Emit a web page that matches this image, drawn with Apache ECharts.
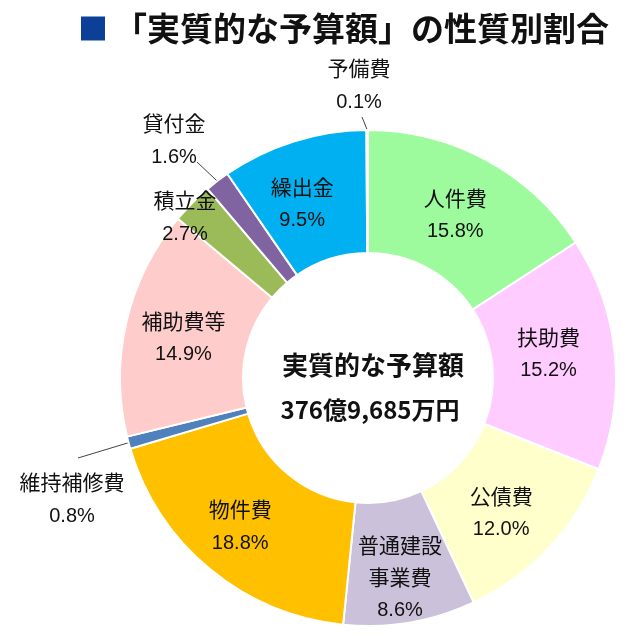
<!DOCTYPE html>
<html><head><meta charset="utf-8">
<script src="https://cdn.jsdelivr.net/npm/echarts@6/dist/echarts.min.js"></script>
<style>html,body{margin:0;padding:0;background:#fff}#c{width:640px;height:641px}</style>
</head><body><div id="c"></div>
<script>
const categories = ['人件費','扶助費','公債費','普通建設事業費','物件費','維持補修費','補助費等','積立金','貸付金','繰出金','予備費'];
const labelNames = ['人件費','扶助費','公債費','普通建設\n事業費','物件費','維持補修費','補助費等','積立金','貸付金','繰出金','予備費'];
const values = [15.8,15.2,12.0,8.6,18.8,0.8,14.9,2.7,1.6,9.5,0.1];
const colors = ['#9dfb9d','#ffccff','#ffffcc','#ccc1da','#ffc000','#4f81bd','#ffcccc','#9bbb59','#8064a2','#00b0f0','#d9d9d9'];
const totalTitle = '実質的な予算額';
const totalAmount = '376億9,685万円';
const chartTitle = '「実質的な予算額」の性質別割合';

// label placement styling
const outsideLabels = {
  '予備費': {pos:[359,86], end:[362,117]},
  '貸付金': {pos:[174,141], end:[197,162]},
  '積立金': {pos:[185,218], end:null},
  '維持補修費': {pos:[72,500], end:[78,458]}
};
const insideOffsets = {
  '人件費':[-3,4], '扶助費':[-8,-4], '公債費':[-5,6], '普通建設事業費':[0,14],
  '物件費':[-7,3], '補助費等':[0,4], '繰出金':[-9,7]
};

const FONT = '"Liberation Sans", "Noto Sans CJK JP", sans-serif';
const chart = echarts.init(document.getElementById('c'));

const data = categories.map((c,i)=>{
  const item = {name:c, value:values[i], itemStyle:{color:colors[i]}};
  const o = outsideLabels[c];
  if (o) {
    item.label = {position:'outside'};
    item.labelLine = {show: !!o.end};
  } else if (insideOffsets[c]) {
    item.label = {offset: insideOffsets[c]};
  }
  return item;
});

chart.setOption({
  animation:false,
  title:[
    {left:81, top:12, padding:0, text:'{sq|}{t|'+chartTitle+'}',
     textStyle:{rich:{
       sq:{width:24,height:24,backgroundColor:'#0b3f98'},
       t:{fontSize:33,fontWeight:'bold',color:'#111',fontFamily:'"Noto Sans CJK JP", sans-serif',padding:[0,0,0,9]}
     }}},
    {left:368, top:347, textAlign:'center', text:totalTitle,
     textStyle:{fontSize:26,fontWeight:'bold',color:'#111',fontFamily:'"Noto Sans CJK JP", sans-serif'}},
    {left:365, top:393, textAlign:'center', text:totalAmount,
     textStyle:{fontSize:24,fontWeight:'bold',color:'#111',fontFamily:'"Noto Sans CJK JP", sans-serif'}}
  ],
  series:[{
    type:'pie',
    center:[368,378],
    radius:[125,248],
    startAngle:90,
    clockwise:true,
    avoidLabelOverlap:false,
    itemStyle:{borderColor:'#fff',borderWidth:2},
    label:{
      show:true, position:'inside', color:'#111',
      formatter:(p)=>'{n|'+labelNames[p.dataIndex].split('\n').join('}\n{n|')+'}\n{p|'+values[p.dataIndex].toFixed(1)+'%}',
      rich:{
        n:{fontSize:21,lineHeight:32,fontFamily:FONT,color:'#111'},
        p:{fontSize:20,lineHeight:31,fontFamily:FONT,color:'#111'}
      }
    },
    labelLine:{show:false,length:10,length2:0,lineStyle:{color:'#444',width:1}},
    labelLayout:(params)=>{
      const name = categories[params.dataIndex];
      const o = outsideLabels[name];
      if (!o) return {};
      const res = {x:o.pos[0], y:o.pos[1], align:'center', verticalAlign:'middle'};
      if (o.end && params.labelLinePoints) {
        const s = params.labelLinePoints[0];
        res.labelLinePoints = [[s[0],s[1]],[o.end[0],o.end[1]],[o.end[0],o.end[1]]];
      }
      return res;
    },
    data:data
  }]
});
</script></body></html>
